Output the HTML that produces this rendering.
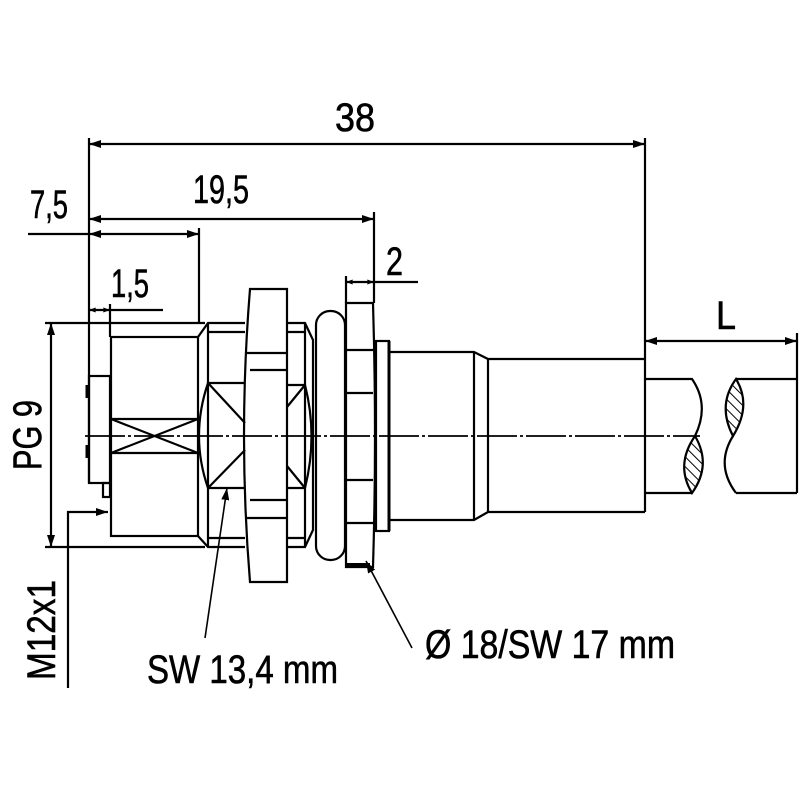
<!DOCTYPE html>
<html><head><meta charset="utf-8"><style>
html,body{margin:0;padding:0;background:#fff}
svg{display:block}
text{font-family:"Liberation Sans Narrow","Liberation Sans",sans-serif;fill:#000;stroke:#000;stroke-width:0.6}
</style></head><body>
<svg width="800" height="800" viewBox="0 0 800 800" xmlns="http://www.w3.org/2000/svg">
<defs>
<marker id="a" viewBox="0 0 12 8" refX="12" refY="4" markerWidth="12" markerHeight="8" markerUnits="userSpaceOnUse" orient="auto-start-reverse"><path d="M0,0 L12,4 L0,8 z" fill="#000"/></marker>
<marker id="s" viewBox="0 0 8 6" refX="8" refY="3" markerWidth="7" markerHeight="5" markerUnits="userSpaceOnUse" orient="auto-start-reverse"><path d="M0,0 L8,3 L0,6 z" fill="#000"/></marker>
<pattern id="h" width="7" height="7" patternUnits="userSpaceOnUse" patternTransform="rotate(-45)"><line x1="0" y1="0" x2="0" y2="7" stroke="#000" stroke-width="2"/></pattern>
</defs>
<g stroke="#000" stroke-width="2.2" fill="none">
<line x1="89" y1="144" x2="645" y2="144" marker-start="url(#a)" marker-end="url(#a)"/>
<line x1="89" y1="219" x2="374" y2="219" marker-start="url(#a)" marker-end="url(#a)"/>
<line x1="89" y1="234" x2="199" y2="234" marker-start="url(#a)" marker-end="url(#a)"/>
<line x1="28" y1="234" x2="89" y2="234"/>
<line x1="89" y1="310" x2="110" y2="310" marker-start="url(#s)" marker-end="url(#s)"/>
<line x1="110" y1="310" x2="163" y2="310"/>
<line x1="346" y1="282" x2="374" y2="282" marker-start="url(#s)" marker-end="url(#s)"/>
<line x1="374" y1="282" x2="418" y2="282"/>
<line x1="645" y1="341" x2="797" y2="341" marker-start="url(#a)" marker-end="url(#a)"/>
<line x1="51" y1="323" x2="51" y2="547" marker-start="url(#a)" marker-end="url(#a)"/>
<line x1="89" y1="138" x2="89" y2="483"/>
<line x1="645" y1="138" x2="645" y2="512"/>
<line x1="199" y1="228" x2="199" y2="323"/>
<line x1="374" y1="212" x2="374" y2="303"/>
<line x1="346" y1="276" x2="346" y2="303"/>
<line x1="110" y1="304" x2="110" y2="337"/>
<line x1="797" y1="333" x2="797" y2="493"/>
<line x1="45" y1="323" x2="205" y2="323"/>
<line x1="45" y1="547" x2="205" y2="547"/>
<polyline points="68,688 68,512 108,512" marker-end="url(#a)"/>
<rect x="89" y="376" width="21" height="107"/>
<rect x="103" y="483" width="7" height="14"/>
<line x1="87" y1="385" x2="87" y2="398" stroke-width="3"/>
<line x1="87" y1="445" x2="87" y2="458" stroke-width="3"/>
<rect x="111" y="337" width="87" height="199"/>
<line x1="111" y1="419" x2="198" y2="419"/>
<line x1="111" y1="453" x2="198" y2="453"/>
<line x1="111" y1="419" x2="198" y2="453"/>
<line x1="111" y1="453" x2="198" y2="419"/>
<path d="M198,337 L208,323 L245,323 M198,536 L208,547 L245,547 M208,323 L208,547 M208,332 L245,332 M208,538 L245,538"/>
<path d="M208,383 Q190,436 208,488 M208,383 L245,383 M208,488 L245,488 M208,383 L245,423 M208,488 L245,450"/>
<path d="M250,289 L287,289 L287,582 L250,582 Q238,436 250,289 Z"/>
<path d="M246,353 L287,353 M250,370 L287,370 M250,500 L287,500 M246,518 L287,518"/>
<path d="M287,323 L305,323 L313,340 L313,530 L305,547 L287,547 M287,332 L305,332 M287,538 L305,538 M305,323 L305,547"/>
<path d="M287,385 L305,385 Q318,436 305,488 L287,488 M287,407 L305,385 M287,466 L305,488"/>
<rect x="316" y="311" width="29" height="249" rx="14" ry="14"/>
<path d="M346,303 L373,303 Q377,436 373,567 L346,567 Z"/>
<path d="M346,350 L373,350 M346,393 L373,393 M346,480 L373,480 M346,523 L373,523"/>
<line x1="346" y1="565" x2="370" y2="565" stroke-width="4"/>
<rect x="376" y="341" width="13" height="190"/>
<line x1="389" y1="341" x2="389" y2="531" stroke-width="3"/>
<path d="M390,352 L474,352 L488,359 L645,359 M390,520 L474,520 L488,512 L645,512 M474,352 L474,520 M488,359 L488,512"/>
<path d="M645,379 L692,379 Q710,405 695,436 M645,493 L692,493"/>
<path d="M695,436 Q675,465 692,493 Q712,465 695,436 Z" fill="url(#h)"/>
<path d="M736,379 L797,379 M736,493 L797,493 M733,436 Q715,465 736,493"/>
<path d="M736,379 Q717,405 733,436 Q752,405 736,379 Z" fill="url(#h)"/>
<line x1="205" y1="638" x2="227" y2="488" stroke-width="1.6" marker-end="url(#a)"/>
<line x1="412" y1="648" x2="366" y2="561" stroke-width="1.6" marker-end="url(#a)"/>
</g>
<line x1="85" y1="436" x2="700" y2="436" stroke="#000" stroke-width="1.8" stroke-dasharray="40,3,3,3"/>
<text x="335" y="131" font-size="40" textLength="40" lengthAdjust="spacingAndGlyphs">38</text>
<text x="193" y="203" font-size="40" textLength="56" lengthAdjust="spacingAndGlyphs">19,5</text>
<text x="30" y="218" font-size="40" textLength="38" lengthAdjust="spacingAndGlyphs">7,5</text>
<text x="386" y="275" font-size="40" textLength="17" lengthAdjust="spacingAndGlyphs">2</text>
<text x="111" y="297" font-size="40" textLength="38" lengthAdjust="spacingAndGlyphs">1,5</text>
<text x="716" y="329" font-size="40" textLength="20" lengthAdjust="spacingAndGlyphs">L</text>
<text x="147" y="683" font-size="40" textLength="191" lengthAdjust="spacingAndGlyphs">SW 13,4 mm</text>
<text x="425" y="658" font-size="40" textLength="250" lengthAdjust="spacingAndGlyphs">Ø 18/SW 17 mm</text>
<text transform="translate(41,470) rotate(-90)" font-size="40" textLength="70" lengthAdjust="spacingAndGlyphs">PG 9</text>
<text transform="translate(55,680) rotate(-90)" font-size="40" textLength="100" lengthAdjust="spacingAndGlyphs">M12x1</text>
</svg>
</body></html>
